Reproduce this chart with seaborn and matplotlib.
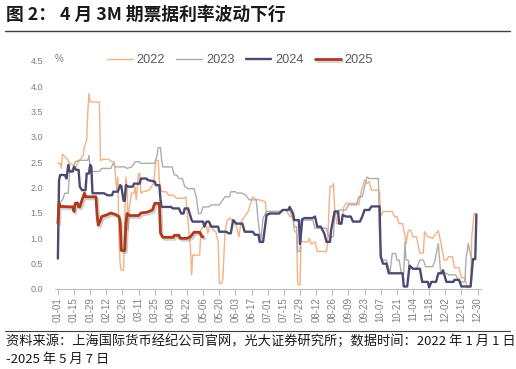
import numpy as np
import pandas as pd
import matplotlib
matplotlib.use('Agg')
import matplotlib.pyplot as plt
import matplotlib.patheffects as pe
from matplotlib.lines import Line2D
import seaborn as sns

# 3M bill rate (%), (day index from 01-01, value)
pts_2022 = [
    (0, 2.48), (2, 2.48), (3, 2.38), (4, 2.66), (6, 2.61), (9, 2.54), (10, 2.48), (13, 2.45),
    (16, 2.41), (17, 2.48), (19, 2.54), (22, 2.64), (23, 2.81), (25, 2.94), (26, 3.53), (27, 3.86),
    (28, 3.69), (36, 3.69), (37, 2.54), (40, 2.56), (44, 2.56), (47, 2.51), (49, 2.51), (50, 2.21),
    (51, 1.95), (52, 2.21), (53, 1.00), (54, 0.50), (55, 0.37), (57, 0.37), (58, 1.36), (59, 2.21),
    (60, 2.02), (61, 1.16), (62, 1.62), (64, 1.89), (66, 1.89), (67, 2.02), (68, 1.76), (70, 2.28),
    (71, 2.28), (72, 1.89), (74, 1.92), (79, 1.95), (81, 2.02), (83, 2.08), (85, 2.54), (87, 2.54),
    (88, 2.12), (90, 1.92), (94, 1.92), (96, 1.85), (100, 1.85), (103, 1.79), (109, 1.79),
    (111, 1.82), (113, 1.29), (115, 0.80), (116, 0.28), (117, 0.67), (123, 0.67), (124, 1.16),
    (126, 1.23), (129, 1.23), (130, 1.10), (132, 1.29), (135, 1.16), (137, 1.13), (139, 0.93),
    (140, 0.11), (142, 0.11), (143, 0.18), (145, 1.13), (147, 1.36), (149, 1.40), (152, 1.33),
    (155, 1.23), (157, 1.03), (159, 1.33), (162, 1.43), (165, 1.53), (169, 1.82), (172, 1.76),
    (175, 1.76), (180, 1.72), (181, 1.43), (184, 1.53), (192, 1.53), (195, 1.56), (198, 1.56),
    (201, 1.43), (204, 1.43), (205, 1.16), (207, 1.10), (208, 0.11), (209, 0.08), (210, 0.08),
    (211, 1.00), (212, 0.93), (217, 0.93), (218, 1.00), (220, 0.89), (223, 0.93), (225, 0.74),
    (233, 0.74), (234, 0.93), (236, 2.02), (238, 2.02), (239, 2.08), (240, 1.62), (242, 1.29),
    (246, 1.29), (248, 1.62), (250, 1.69), (259, 1.69), (261, 1.66), (263, 1.92), (266, 2.15),
    (268, 2.08), (270, 2.12), (272, 1.95), (278, 1.95), (279, 1.92), (280, 1.43), (282, 1.53),
    (290, 1.53), (292, 1.43), (294, 1.43), (296, 1.29), (299, 1.29), (301, 1.07), (302, 0.89),
    (304, 1.16), (306, 1.16), (308, 1.03), (311, 1.03), (314, 0.71), (317, 0.71), (318, 1.13),
    (321, 1.03), (325, 1.00), (328, 1.10), (330, 1.15), (332, 0.93), (335, 0.57), (337, 0.57),
    (339, 0.64), (342, 0.64), (344, 0.42), (348, 0.42), (350, 0.22), (353, 0.22), (355, 0.03),
    (358, 0.03), (359, 1.03), (361, 1.49), (363, 1.49),
]

pts_2023 = [
    (0, 1.55), (1, 1.69), (4, 1.76), (6, 1.89), (9, 1.89), (10, 2.28), (13, 2.38), (15, 2.51),
    (18, 2.54), (26, 2.54), (27, 2.64), (28, 2.38), (30, 2.32), (36, 2.32), (38, 2.38), (46, 2.38),
    (48, 2.48), (50, 2.41), (58, 2.41), (60, 2.38), (64, 2.41), (67, 2.51), (71, 2.51), (72, 2.48),
    (84, 2.48), (86, 2.64), (87, 2.79), (89, 2.79), (90, 2.54), (91, 2.41), (99, 2.41), (101, 2.25),
    (103, 2.25), (105, 2.18), (108, 2.18), (110, 2.02), (113, 1.98), (118, 1.98), (120, 1.82),
    (122, 1.49), (124, 1.49), (126, 1.62), (131, 1.62), (133, 1.66), (140, 1.66), (143, 1.76),
    (145, 1.82), (149, 1.82), (150, 1.92), (154, 1.92), (156, 1.89), (160, 1.89), (163, 1.85),
    (166, 1.76), (172, 1.76), (174, 1.29), (176, 0.95), (178, 1.40), (181, 1.53), (192, 1.53),
    (195, 1.56), (201, 1.56), (204, 1.36), (205, 1.23), (207, 1.23), (208, 0.74), (210, 0.74),
    (211, 1.36), (221, 1.36), (223, 1.20), (233, 1.20), (235, 1.03), (239, 1.03), (240, 1.49),
    (243, 1.49), (244, 1.56), (250, 1.56), (252, 1.66), (259, 1.66), (261, 1.82), (264, 1.82),
    (268, 2.21), (270, 2.18), (278, 2.18), (279, 1.10), (281, 0.57), (285, 0.57), (288, 0.31),
    (290, 0.70), (293, 0.70), (294, 0.57), (296, 0.57), (298, 0.31), (300, 0.31), (301, 0.93),
    (302, 0.57), (304, 0.57), (305, 0.40), (311, 0.40), (314, 0.57), (317, 0.57), (319, 0.44),
    (325, 0.44), (327, 0.55), (330, 0.90), (332, 0.31), (337, 0.31), (339, 0.28), (345, 0.28),
    (348, 0.14), (353, 0.14), (354, 0.60), (356, 0.90), (357, 0.77), (359, 0.58), (361, 0.58),
]

pts_2024 = [
    (0, 0.60), (1, 2.15), (2, 2.25), (6, 2.25), (7.5, 2.18), (9, 2.45), (10, 2.32), (13, 2.32),
    (14, 2.41), (16, 2.35), (18, 2.35), (19, 2.02), (21, 1.95), (24, 1.95), (25, 2.28), (27, 2.28),
    (28, 2.45), (29, 2.41), (30, 1.89), (40, 1.89), (43, 1.85), (47, 1.85), (48, 1.92), (52, 1.92),
    (54, 2.05), (55, 2.03), (57, 1.74), (58, 1.74), (59, 2.05), (61, 2.02), (65, 2.02), (66, 2.08),
    (71, 2.08), (72, 2.18), (77, 2.18), (78, 2.15), (84, 2.12), (85, 2.05), (88, 2.05), (89, 1.76),
    (90, 1.62), (98, 1.62), (100, 1.59), (105, 1.59), (107, 1.49), (109, 1.49), (110, 1.59),
    (113, 1.59), (116, 1.36), (117, 1.33), (126, 1.33), (127, 1.23), (129, 1.33), (131, 1.33),
    (133, 1.23), (139, 1.23), (140, 1.13), (146, 1.13), (148, 1.10), (150, 1.10), (152, 1.36),
    (155, 1.29), (160, 1.29), (162, 1.13), (169, 1.13), (171, 1.07), (174, 1.07), (175, 0.93),
    (178, 0.93), (181, 1.46), (184, 1.49), (192, 1.49), (195, 1.56), (200, 1.56), (201, 1.62),
    (204, 1.49), (205, 1.36), (209, 1.36), (210, 0.89), (212, 1.38), (214, 1.40), (221, 1.40),
    (223, 1.43), (225, 1.23), (228, 1.23), (231, 1.10), (233, 0.93), (236, 0.93), (237, 1.16),
    (240, 1.53), (243, 1.53), (244, 1.29), (246, 1.29), (247, 1.46), (250, 1.43), (254, 1.43),
    (256, 1.33), (262, 1.33), (264, 1.43), (266, 1.56), (270, 1.56), (272, 1.63), (279, 1.63),
    (280, 0.64), (282, 0.50), (285, 0.50), (287, 0.31), (299, 0.31), (300, 0.05), (303, 0.05),
    (305, 0.46), (308, 0.40), (314, 0.40), (316, 0.14), (321, 0.14), (322, 0.03), (324, 0.14),
    (328, 0.14), (330, 0.31), (333, 0.31), (334, 0.37), (337, 0.14), (343, 0.14), (344, 0.18),
    (348, 0.18), (350, 0.05), (358, 0.05), (360, 0.59), (362, 0.59), (363, 1.47),
]

pts_2025 = [
    (0, 1.30), (1, 1.69), (2, 1.63), (13, 1.62), (14, 1.53), (15, 1.69), (17, 1.70), (18, 1.62),
    (19, 1.62), (21, 1.76), (23, 1.89), (24, 1.82), (33, 1.82), (34, 1.45), (35, 1.26), (37, 1.36),
    (38, 1.43), (42, 1.46), (46, 1.50), (50, 1.47), (53, 1.43), (54, 1.30), (55, 0.76), (58, 0.76),
    (59, 1.30), (60, 1.49), (62, 1.45), (70, 1.45), (72, 1.50), (78, 1.52), (82, 1.56), (84, 1.69),
    (88, 1.69), (89, 1.10), (91, 1.02), (100, 1.02), (101, 1.06), (105, 1.06), (106, 1.00),
    (112, 1.00), (115, 1.03), (118, 1.12), (123, 1.12), (125, 1.03), (126, 1.03),
]

years = ['2022', '2023', '2024', '2025']
tick_labels = ['01-01', '01-15', '01-29', '02-12', '02-26', '03-11', '03-25', '04-08', '04-22',
               '05-06', '05-20', '06-03', '06-17', '07-01', '07-15', '07-29', '08-12', '08-26',
               '09-09', '09-23', '10-07', '10-21', '11-04', '11-18', '12-02', '12-16', '12-30']

title = '图 2： 4 月 3M 期票据利率波动下行'
source_1 = '资料来源：上海国际货币经纪公司官网，光大证券研究所；数据时间：2022 年 1 月 1 日'
source_2 = '-2025 年 5 月 7 日'

colors = {'2022': '#F4B183', '2023': '#ADADAD', '2024': '#4B4A72', '2025': '#AE3A1E'}
widths = {'2022': 1.0, '2023': 1.0, '2024': 1.7, '2025': 2.0}

sns.set_theme(style='white')
CJK = ['Noto Sans CJK SC', 'DejaVu Sans']
LAT = ['Liberation Sans', 'Noto Sans CJK SC']
plt.rcParams['font.family'] = LAT

fig = plt.figure(figsize=(5.16, 3.69), dpi=100)
W, H = 516, 369
ax = fig.add_axes([55 / W, 80 / H, 426 / W, 228 / H])

for yr, pts in zip(years, [pts_2022, pts_2023, pts_2024, pts_2025]):
    d = pd.DataFrame(pts, columns=['day', 'rate'])
    kw = {}
    if yr == '2025':
        kw['path_effects'] = [pe.SimpleLineShadow(offset=(1.2, -1.5), shadow_color='#808080', alpha=0.35),
                              pe.Normal()]
    sns.lineplot(data=d, x='day', y='rate', ax=ax, color=colors[yr], linewidth=widths[yr],
                 estimator=None, sort=False, label=yr, **kw)

ax.set_xlim(-2.5, 367)
ax.set_ylim(0, 4.5)
ax.set_xlabel('')
ax.set_ylabel('')

yt = np.arange(0, 4.51, 0.5)
ax.set_yticks(yt)
ax.set_yticklabels([f'{v:.1f}' for v in yt])
ax.set_xticks(np.arange(len(tick_labels)) * 14)
ax.set_xticklabels(tick_labels, rotation=90)
ax.tick_params(axis='y', length=0, pad=8.5, labelsize=6.5, labelcolor='#7f7f7f')
ax.tick_params(axis='x', length=4, width=0.8, color='#bfbfbf', pad=2, labelsize=7,
               labelcolor='#7f7f7f', bottom=True)
for s in ['left', 'right', 'top']:
    ax.spines[s].set_visible(False)
ax.spines['bottom'].set_color('#bfbfbf')
ax.spines['bottom'].set_linewidth(0.8)

handles, labels = ax.get_legend_handles_labels()
ax.get_legend().remove()
fig.legend(handles, labels, loc='center', bbox_to_anchor=(240 / W, 1 - 60 / H), ncol=4,
           frameon=False, fontsize=9.2, handlelength=2.0, handletextpad=0.3, columnspacing=0.9,
           labelcolor='#595959')

fig.text(55 / W, 1 - 59 / H, '%', fontsize=7, color='#7f7f7f', ha='left', va='center')

fig.text(6 / W, 1 - 15 / H, title, fontsize=12.8, fontweight='bold', color='#1a1a1a',
         ha='left', va='center', family=CJK)
fig.add_artist(Line2D([5 / W, 510 / W], [1 - 31 / H] * 2, color='#404040', lw=1.0))
fig.add_artist(Line2D([5 / W, 510 / W], [1 - 331 / H] * 2, color='#404040', lw=0.8))
fig.text(6 / W, 1 - 341 / H, source_1, fontsize=9.5, color='#1a1a1a', ha='left', va='center',
         family=CJK)
fig.text(6 / W, 1 - 359 / H, source_2, fontsize=9.5, color='#1a1a1a', ha='left', va='center',
         family=CJK)

fig.savefig('out.png', dpi=100)
